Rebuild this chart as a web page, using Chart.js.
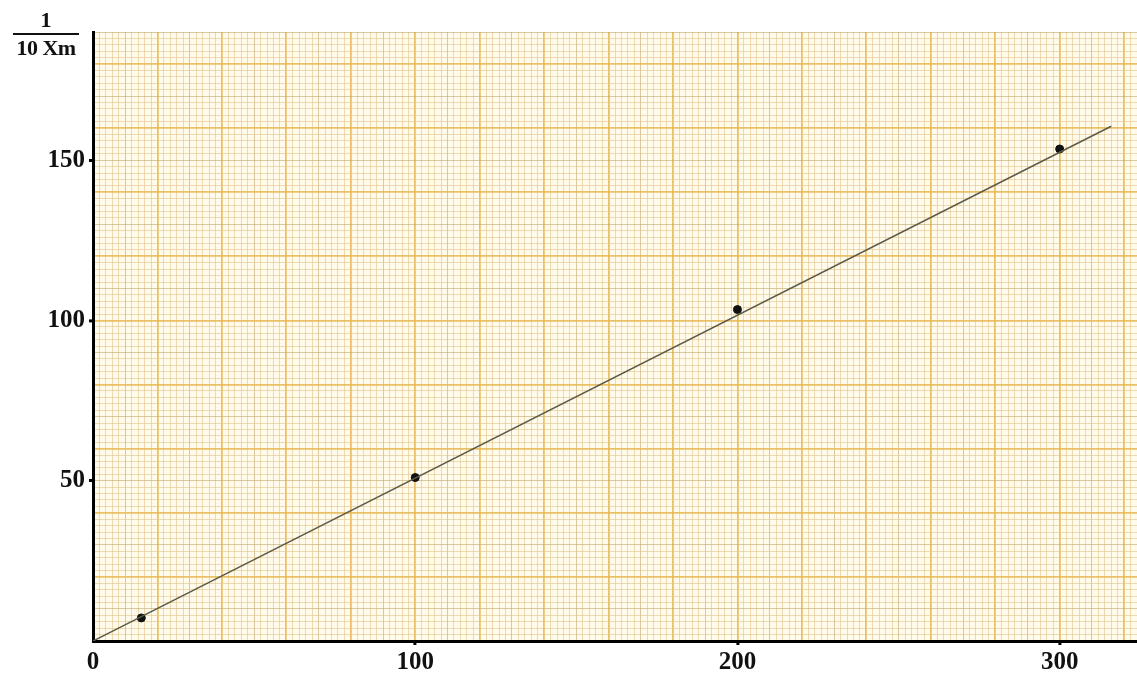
<!DOCTYPE html>
<html>
<head>
<meta charset="utf-8">
<script src="https://cdn.jsdelivr.net/npm/chart.js@4"></script>
<style>
    body { margin: 0; background: #fff; }
    #wrap { position: relative; width: 1137px; height: 677px; }
    #yTitle {
        position: absolute; left: 13px; top: 8px; width: 66px;
        font-family: 'Liberation Serif', serif; font-weight: bold; font-size: 22px;
        text-align: center; color: #111; line-height: 24px;
    }
    #yTitle .num { border-bottom: 2px solid #111; padding-bottom: 1px; }
    #yTitle .den { padding-top: 1px; letter-spacing: -0.5px; }
</style>
</head>
<body>
<div id="wrap">
    <canvas id="plot"></canvas>
    <div id="yTitle"><div class="num">1</div><div class="den">10 Xm</div></div>
</div>
<script>
// axis labels
const xTickLabels = [0, 100, 200, 300];
const yTickLabels = [50, 100, 150];

// measured points
const measuredX = [15, 100, 200, 300];
const measuredY = [7.2, 51, 103.4, 153.5];

// fitted straight line through the origin
const fitX = [0, 316];
const fitY = [0, 160.6];

const X_MAX = 324;
const Y_MAX = 190;

// graph paper lines: fine every 2, medium every 10, heavy every 20
function paperColor(v) {
    v = Math.round(v);
    if (v % 20 === 0) return 'rgba(230, 182, 82, 0.85)';
    if (v % 10 === 0) return 'rgba(190, 168, 110, 0.6)';
    return 'rgba(225, 195, 140, 0.6)';
}
function paperWidth(v) {
    v = Math.round(v);
    if (v % 20 === 0) return 1.8;
    return 1;
}

const paperBackground = {
    id: 'paperBackground',
    beforeDraw(chart) {
        const { ctx, chartArea } = chart;
        ctx.save();
        ctx.fillStyle = '#fffaea';
        ctx.fillRect(chartArea.left, chartArea.top, chartArea.right - chartArea.left, chartArea.bottom - chartArea.top);
        ctx.restore();
    }
};

const tickFont = { family: "'Liberation Serif', serif", size: 25, weight: 'bold' };

new Chart(document.getElementById('plot').getContext('2d'), {
    type: 'scatter',
    data: {
        datasets: [
            {
                type: 'line',
                data: fitX.map((x, i) => ({ x: x, y: fitY[i] })),
                borderColor: '#5b5b48',
                borderWidth: 1.5,
                pointRadius: 0,
                fill: false
            },
            {
                data: measuredX.map((x, i) => ({ x: x, y: measuredY[i] })),
                backgroundColor: '#111',
                borderColor: '#111',
                pointRadius: 4
            }
        ]
    },
    options: {
        responsive: true,
        maintainAspectRatio: false,
        animation: false,
        layout: { autoPadding: false, padding: { top: 32, right: 0, left: 0, bottom: 0 } },
        plugins: {
            legend: { display: false },
            tooltip: { enabled: false }
        },
        scales: {
            x: {
                type: 'linear',
                min: 0,
                max: X_MAX,
                border: { display: true, color: '#000', width: 3 },
                grid: {
                    color: ctx => paperColor(ctx.tick.value),
                    lineWidth: ctx => paperWidth(ctx.tick.value),
                    tickColor: ctx => (xTickLabels.includes(Math.round(ctx.tick.value)) && ctx.tick.value > 0) ? '#000' : 'rgba(0,0,0,0)',
                    tickLength: 4,
                    tickWidth: 3
                },
                ticks: {
                    stepSize: 2,
                    autoSkip: false,
                    maxRotation: 0,
                    maxTicksLimit: 1000,
                    padding: 3,
                    color: '#111',
                    font: tickFont,
                    callback: v => xTickLabels.includes(Math.round(v)) ? String(Math.round(v)) : ''
                },
                afterFit: scale => {
                    scale.height = 36;
                    scale.paddingRight = 0;
                    scale.paddingLeft = 0;
                }
            },
            y: {
                type: 'linear',
                min: 0,
                max: Y_MAX,
                border: { display: true, color: '#000', width: 3 },
                grid: {
                    color: ctx => paperColor(ctx.tick.value),
                    lineWidth: ctx => paperWidth(ctx.tick.value),
                    tickColor: ctx => yTickLabels.includes(Math.round(ctx.tick.value)) ? '#000' : 'rgba(0,0,0,0)',
                    tickLength: 4,
                    tickWidth: 3
                },
                ticks: {
                    stepSize: 2,
                    autoSkip: false,
                    maxTicksLimit: 1000,
                    padding: 4,
                    color: '#111',
                    font: tickFont,
                    callback: v => yTickLabels.includes(Math.round(v)) ? String(Math.round(v)) : ''
                },
                afterFit: scale => {
                    scale.width = 93;
                    scale.paddingTop = 0;
                    scale.paddingBottom = 0;
                }
            }
        }
    },
    plugins: [paperBackground]
});
</script>
</body>
</html>
